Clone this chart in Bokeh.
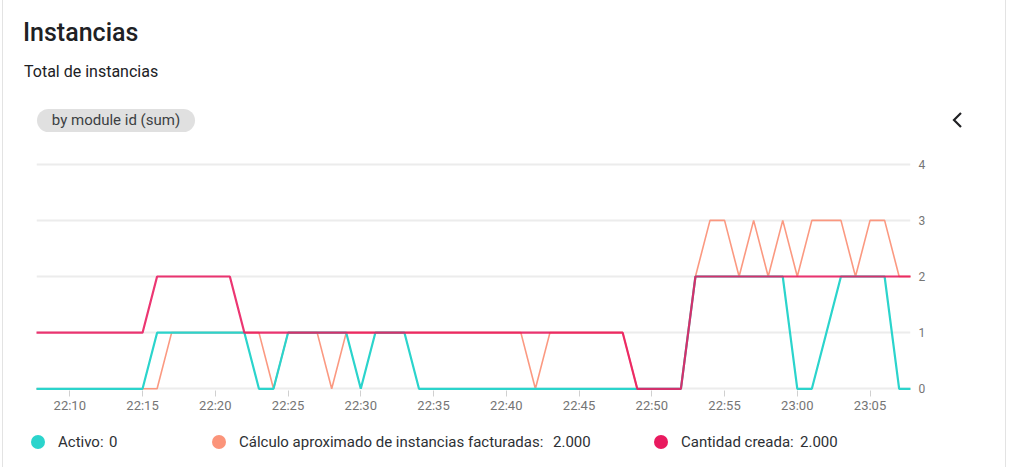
import pandas as pd
from bokeh.plotting import figure
from bokeh.layouts import column
from bokeh.models import Range1d, FixedTicker, DatetimeTickFormatter, Div
from bokeh.embed import file_html
from bokeh.resources import INLINE

# ---- data (one point per minute, 22:07 .. 23:08) ----
day = "2024-05-14 "
times = pd.date_range(day + "22:07", day + "23:08", freq="min")

activo = [0, 0, 0, 0, 0, 0, 0, 0, 0,          # 22:07-22:15
          1, 1, 1, 1, 1, 1, 1,                # 22:16-22:22
          0, 0,                               # 22:23-22:24
          1, 1, 1, 1, 1,                      # 22:25-22:29
          0,                                  # 22:30
          1, 1, 1,                            # 22:31-22:33
          0, 0, 0, 0, 0, 0, 0, 0, 0, 0,
          0, 0, 0, 0, 0, 0, 0, 0, 0,          # 22:34-22:52
          2, 2, 2, 2, 2, 2, 2,                # 22:53-22:59
          0, 0,                               # 23:00-23:01
          1,                                  # 23:02
          2, 2, 2, 2,                         # 23:03-23:06
          0, 0]                               # 23:07-23:08

facturadas = [0, 0, 0, 0, 0, 0, 0, 0, 0, 0,   # 22:07-22:16
              1, 1, 1, 1, 1, 1, 1,            # 22:17-22:23
              0,                              # 22:24
              1, 1, 1,                        # 22:25-22:27
              0,                              # 22:28
              1, 1, 1, 1, 1, 1, 1, 1, 1, 1, 1, 1, 1,   # 22:29-22:41
              0,                              # 22:42
              1, 1, 1, 1, 1, 1,               # 22:43-22:48
              0, 0, 0, 0,                     # 22:49-22:52
              2, 3, 3, 2, 3, 2, 3, 2,         # 22:53-23:00
              3, 3, 3, 2, 3, 3, 2, 2]         # 23:01-23:08

creada = [1, 1, 1, 1, 1, 1, 1, 1, 1,          # 22:07-22:15
          2, 2, 2, 2, 2, 2,                   # 22:16-22:21
          1, 1, 1, 1, 1, 1, 1, 1, 1, 1, 1, 1, 1, 1,
          1, 1, 1, 1, 1, 1, 1, 1, 1, 1, 1, 1, 1,   # 22:22-22:48
          0, 0, 0, 0,                         # 22:49-22:52
          2, 2, 2, 2, 2, 2, 2, 2, 2, 2, 2, 2, 2, 2, 2, 2]  # 22:53-23:08

x_tick_labels = ["22:10", "22:15", "22:20", "22:25", "22:30", "22:35",
                 "22:40", "22:45", "22:50", "22:55", "23:00", "23:05"]
y_ticks = [0, 1, 2, 3, 4]

series_names = ["Activo:", "Cálculo aproximado de instancias facturadas:", "Cantidad creada:"]
series_last = ["0", "2.000", "2.000"]

C_TEAL = "#2bd4cc"
C_SALMON = "#fb947a"
C_PINK = "#e91a5f"
FONT = "Roboto"
W = 1013

x_start = pd.Timestamp(day + "22:07:42.7")
x_end = pd.Timestamp(day + "23:07:46.8")

# ---------------- header (title, subtitle, chip, chevron) ----------------
header_html = f"""
<div style="position:relative;width:{W}px;height:150px;font-family:{FONT},sans-serif;color:#202124;">
  <div style="position:absolute;left:23px;top:20px;font-size:25px;line-height:25px;font-weight:500;white-space:nowrap;">Instancias</div>
  <div style="position:absolute;left:24px;top:64px;font-size:16px;line-height:16px;white-space:nowrap;">Total de instancias</div>
  <div style="position:absolute;left:37px;top:109px;width:158px;height:23px;border-radius:12px;background:#e0e0e0;
              font-size:15px;line-height:23px;text-align:center;color:#3c4043;white-space:nowrap;">by module id (sum)</div>
  <svg style="position:absolute;left:950px;top:110px;" width="16" height="20">
    <polyline points="11,3 4,10 11,17" fill="none" stroke="#202124" stroke-width="2.2"/>
  </svg>
</div>
"""
header = Div(text=header_html, width=W, height=150, margin=0)

# ---------------- chart ----------------
p = figure(width=W, height=270, output_backend="svg", toolbar_location=None,
           x_axis_type="datetime", y_axis_location="right",
           x_range=Range1d(x_start, x_end), y_range=Range1d(-0.03, 4.03),
           min_border_left=36, min_border_right=W - 910,
           min_border_top=12, min_border_bottom=30, title=None)
p.outline_line_color = None
p.background_fill_color = "white"
p.border_fill_alpha = 0

p.line(times, facturadas, line_color=C_SALMON, line_width=1.6, line_alpha=0.95)
p.line(times, activo, line_color=C_TEAL, line_width=2.2)
p.line(times, creada, line_color=C_PINK, line_width=2.2, line_alpha=0.88)

tick_ms = [pd.Timestamp(day + t).value // 10**6 for t in x_tick_labels]
xa = p.xaxis[0]
xa.ticker = FixedTicker(ticks=tick_ms)
fmt = "%H:%M"
xa.formatter = DatetimeTickFormatter(minsec=fmt, minutes=fmt, hourmin=fmt, hours=fmt)
xa.axis_line_color = None
xa.major_tick_line_color = "#d0d0d0"
xa.major_tick_out = 6
xa.major_tick_in = 0
xa.minor_tick_line_color = None
xa.major_label_standoff = 1
xa.major_label_text_font = FONT
xa.major_label_text_font_size = "13px"
xa.major_label_text_color = "#757575"

ya = p.yaxis[0]
ya.ticker = FixedTicker(ticks=y_ticks)
ya.axis_line_color = None
ya.major_tick_line_color = None
ya.major_tick_out = 0
ya.major_tick_in = 0
ya.minor_tick_line_color = None
ya.major_label_standoff = 8
ya.major_label_text_font = FONT
ya.major_label_text_font_size = "12px"
ya.major_label_text_color = "#757575"

p.xgrid.grid_line_color = None
p.ygrid.grid_line_color = "#ececec"
p.ygrid.grid_line_width = 2

# ---------------- legend ----------------
legend_colors = [C_TEAL, C_SALMON, C_PINK]
dot_x = [38, 219, 661]
name_x = [58, 239, 681]
val_x = [109, 553, 800]
items = []
for c, cx, nx, vx, nm, vl in zip(legend_colors, dot_x, name_x, val_x, series_names, series_last):
    items.append(
        f'<div style="position:absolute;left:{cx - 7}px;top:14.5px;width:14px;height:14px;border-radius:50%;background:{c};"></div>'
        f'<div style="position:absolute;left:{nx}px;top:11.5px;font-size:15px;line-height:20px;white-space:nowrap;">{nm}</div>'
        f'<div style="position:absolute;left:{vx}px;top:11.5px;font-size:15px;line-height:20px;white-space:nowrap;">{vl}</div>'
    )
legend_html = (f'<div style="position:relative;width:{W}px;height:47px;font-family:{FONT},sans-serif;color:#2d3034;">'
               + "".join(items) + "</div>")
legend = Div(text=legend_html, width=W, height=47, margin=0)

card_bg = ("linear-gradient(to right, transparent 2px, #e3e3e3 2px, #e3e3e3 3px, transparent 3px, "
           "transparent 1005px, #e3e3e3 1005px, #e3e3e3 1006px, transparent 1006px)")
layout = column(header, p, legend, spacing=0, styles={"background": card_bg})

open("out.html", "w").write(file_html(layout, INLINE))
